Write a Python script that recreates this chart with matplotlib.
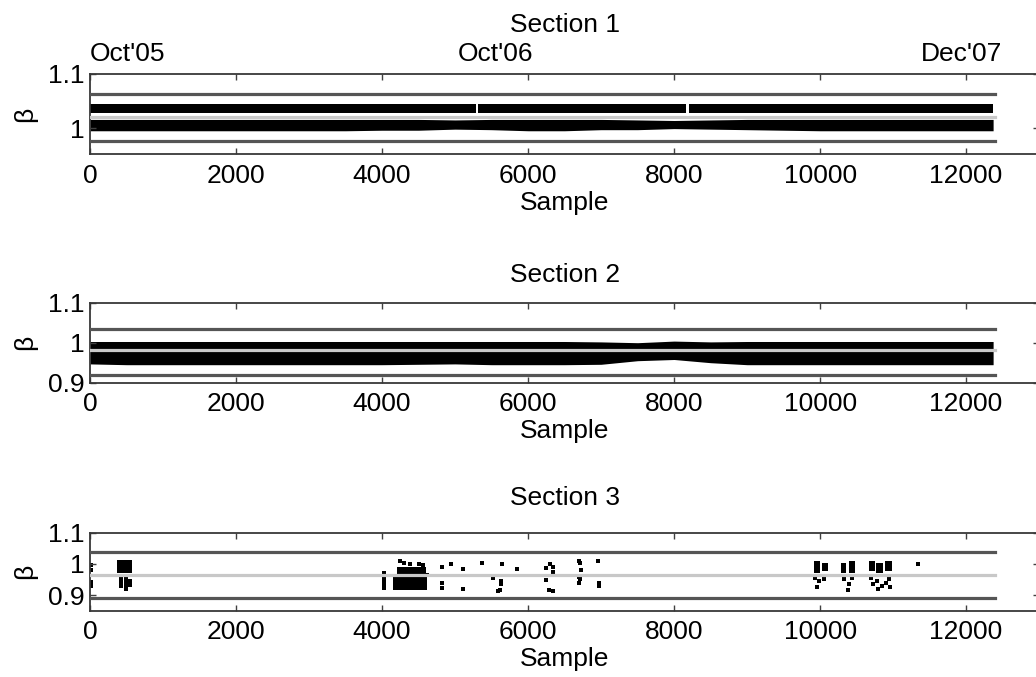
import numpy as np
import matplotlib
matplotlib.use("Agg")
import matplotlib.pyplot as plt

plt.rcParams["font.family"] = ["Liberation Sans", "DejaVu Sans"]
plt.rcParams["font.size"] = 19

# sample positions where the envelope of the dense clusters was read
band_x = [0, 500, 1000, 1500, 2000, 2500, 3000, 3500, 4000, 4500, 5000, 5500, 6000,
          6500, 7000, 7500, 8000, 8500, 9000, 9500, 10000, 10500, 11000, 11500, 12000, 12370]

# section 1: upper cluster (with small gaps) and lower cluster
s1_up_start = [0, 5320, 8210]
s1_up_end = [5290, 8160, 12370]
s1_up_lo = [1.027, 1.027, 1.027]
s1_up_hi = [1.044, 1.044, 1.044]
s1_low_lo = [0.995, 0.995, 0.995, 0.995, 0.995, 0.995, 0.995, 0.995, 0.996, 0.996, 0.998, 0.997, 0.995,
             0.995, 0.997, 0.997, 0.999, 0.998, 0.997, 0.996, 0.995, 0.995, 0.995, 0.995, 0.995, 0.995]
s1_low_hi = [1.016, 1.016, 1.016, 1.016, 1.016, 1.016, 1.016, 1.016, 1.016, 1.016, 1.015, 1.016, 1.016,
             1.016, 1.016, 1.015, 1.014, 1.015, 1.016, 1.016, 1.016, 1.016, 1.016, 1.016, 1.016, 1.016]
s1_limits = [1.0635, 1.0198, 0.9765]

# section 2: one wide cluster
s2_lo = [0.947, 0.945, 0.945, 0.945, 0.945, 0.945, 0.945, 0.945, 0.945, 0.946, 0.947, 0.945, 0.945,
         0.945, 0.946, 0.955, 0.958, 0.950, 0.945, 0.945, 0.945, 0.945, 0.945, 0.945, 0.945, 0.945]
s2_hi = [1.003, 1.003, 1.003, 1.003, 1.003, 1.003, 1.003, 1.003, 1.003, 1.003, 1.003, 1.003, 1.003,
         1.003, 1.002, 1.000, 1.004, 1.002, 1.003, 1.003, 1.003, 1.003, 1.003, 1.003, 1.003, 1.003]
s2_limits = [1.035, 0.981, 0.919]

# section 3: dense blobs (start, end, lo, hi) and isolated points
s3_blob_start = [370, 400, 465, 525, 4150, 4200, 9910, 10020, 10290, 10390, 10670, 10770, 10890]
s3_blob_end = [570, 445, 515, 570, 4610, 4600, 9995, 10110, 10350, 10480, 10750, 10860, 10990]
s3_blob_lo = [0.972, 0.922, 0.912, 0.925, 0.915, 0.966, 0.972, 0.976, 0.972, 0.972, 0.976, 0.972, 0.976]
s3_blob_hi = [1.012, 0.958, 0.958, 0.952, 0.958, 0.990, 1.008, 1.002, 1.004, 1.008, 1.008, 1.004, 1.008]
s3_x = [15, 15, 15, 10,
        4020, 4020, 4020, 4020, 4030, 4250, 4300, 4380, 4500, 4560, 4620,
        4818, 4945, 5114, 5374, 5640, 5845, 4818, 4818, 5105, 5516, 5630, 5630, 5610, 5590,
        6242, 6301, 6347, 6347, 6242, 6287, 6347, 6703, 6712, 6726, 6703, 6712, 6703, 6963, 6977, 6977,
        9930, 9990, 10050, 9960, 10330, 10400, 10440, 10380, 10700, 10780, 10850, 10950, 10720, 10800,
        10900, 10960, 11340]
s3_y = [0.980, 0.943, 0.928, 0.995,
        0.960, 0.948, 0.935, 0.922, 0.970, 1.010, 1.004, 1.000, 1.000, 0.995, 0.965,
        0.990, 1.000, 0.983, 1.004, 1.000, 0.983, 0.939, 0.924, 0.920, 0.954, 0.946, 0.934, 0.916, 0.913,
        0.988, 1.000, 0.990, 0.974, 0.948, 0.915, 0.914, 1.010, 1.002, 0.980, 0.958, 0.952, 0.940, 1.010, 0.940, 0.930,
        0.955, 0.945, 0.950, 0.925, 0.950, 0.935, 0.955, 0.915, 0.955, 0.945, 0.930, 0.950, 0.935, 0.918,
        0.940, 0.925, 0.998]
s3_limits = [1.037, 0.964, 0.891]

n_samples = 12400
dates = ["Oct'05", "Oct'06", "Dec'07"]
date_pos = [0, 5040, 11380]

fig = plt.figure(figsize=(10.36, 6.77), dpi=100)
axes = [fig.add_axes([0.0869, 0.7725, 0.9161, 0.1182]),
        fig.add_axes([0.0869, 0.4347, 0.9161, 0.1182]),
        fig.add_axes([0.0869, 0.0980, 0.9161, 0.1152])]

dark = "#555555"
light = "#c8c8c8"


def draw_limits(ax, lims):
    ax.plot([0, n_samples], [lims[0]] * 2, color=dark, lw=2.3, zorder=3)
    ax.plot([0, n_samples], [lims[1]] * 2, color=light, lw=2.3, zorder=3)
    ax.plot([0, n_samples], [lims[2]] * 2, color=dark, lw=2.3, zorder=3)


# section 1
ax = axes[0]
for x0, x1, lo, hi in zip(s1_up_start, s1_up_end, s1_up_lo, s1_up_hi):
    ax.fill_between([x0, x1], lo, hi, color="black", lw=0)
ax.fill_between(band_x, s1_low_lo, s1_low_hi, color="black", lw=0)
draw_limits(ax, s1_limits)
ax.set_ylim(0.952, 1.1)
ax.set_yticks([1, 1.1])
for lab, xp in zip(dates, date_pos):
    ax.annotate(lab, (xp, 1.1), xytext=(0, 6), textcoords="offset points", ha="left", va="bottom")

# section 2
ax = axes[1]
ax.fill_between(band_x, s2_lo, s2_hi, color="black", lw=0)
draw_limits(ax, s2_limits)
ax.set_ylim(0.9, 1.1)
ax.set_yticks([0.9, 1, 1.1])

# section 3
ax = axes[2]
for x0, x1, lo, hi in zip(s3_blob_start, s3_blob_end, s3_blob_lo, s3_blob_hi):
    ax.fill_between([x0, x1], lo, hi, color="black", lw=0)
ax.scatter(s3_x, s3_y, s=6, marker="s", color="black", lw=0)
draw_limits(ax, s3_limits)
ax.set_ylim(0.85, 1.1)
ax.set_yticks([0.9, 1, 1.1])

title_pad = [30, 15, 20]
for i, ax in enumerate(axes):
    ax.set_xlim(0, 13000)
    ax.set_xticks(range(0, 13000, 2000))
    ax.set_yticklabels([("%g" % t) for t in ax.get_yticks()])
    ax.tick_params(direction="in", top=True, right=True, length=4.5, width=1, color="#404040")
    ax.tick_params(axis="x", pad=7)
    ax.tick_params(axis="y", pad=4)
    for sp in ax.spines.values():
        sp.set_color("#383838")
        sp.set_linewidth(1.3)
    ax.set_title("Section %d" % (i + 1), pad=title_pad[i], fontsize=19)
    ax.set_xlabel("Sample", labelpad=2)
    ax.set_ylabel("\u03b2", labelpad=8)

fig.savefig("out.png", dpi=100)
